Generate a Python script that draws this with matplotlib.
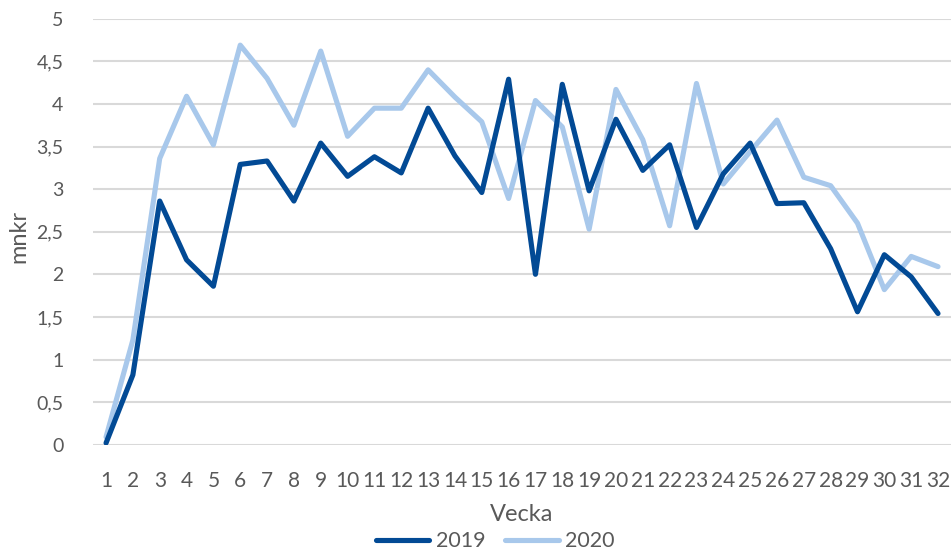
import matplotlib
matplotlib.use("Agg")
import matplotlib.pyplot as plt

weeks = list(range(1, 33))
week_labels = [str(w) for w in weeks]
y2019 = [0.02, 0.82, 2.86, 2.17, 1.86, 3.29, 3.33, 2.86, 3.54, 3.15, 3.38, 3.19,
         3.95, 3.39, 2.96, 4.29, 2.00, 4.23, 2.98, 3.82, 3.22, 3.52, 2.55, 3.18,
         3.54, 2.83, 2.84, 2.30, 1.56, 2.23, 1.97, 1.54]
y2020 = [0.09, 1.23, 3.36, 4.09, 3.52, 4.69, 4.30, 3.75, 4.62, 3.62, 3.95, 3.95,
         4.40, 4.08, 3.79, 2.89, 4.04, 3.73, 2.53, 4.17, 3.58, 2.57, 4.24, 3.06,
         3.44, 3.81, 3.14, 3.04, 2.60, 1.82, 2.21, 2.09]
yticks = [0, 0.5, 1, 1.5, 2, 2.5, 3, 3.5, 4, 4.5, 5]
ytick_labels = ["0", "0,5", "1", "1,5", "2", "2,5", "3", "3,5", "4", "4,5", "5"]
series_names = ["2019", "2020"]

plt.rcParams['font.family'] = ['Lato', 'DejaVu Sans']
txt = '#595959'

fig = plt.figure(figsize=(9.52, 5.54), dpi=100)
ax = fig.add_axes([0.0973, 0.1973, 0.9021, 0.7689])

ax.plot(weeks, y2019, color='#024A95', lw=3.7, label=series_names[0],
        solid_joinstyle='round', solid_capstyle='round', zorder=4)
ax.plot(weeks, y2020, color='#A8C8EB', lw=3.7, label=series_names[1],
        solid_joinstyle='round', solid_capstyle='round', zorder=3)

ax.set_xlim(0.5, 32.5)
ax.set_ylim(0, 5)
ax.set_yticks(yticks)
ax.set_yticklabels(ytick_labels)
ax.set_xticks(weeks)
ax.set_xticklabels(week_labels)
ax.grid(axis='y', color='#D9D9D9', lw=1.5, zorder=0)
ax.set_axisbelow(True)
for s in ax.spines.values():
    s.set_visible(False)
ax.tick_params(axis='y', length=0, labelsize=14, colors=txt, pad=21)
ax.tick_params(axis='x', length=0, labelsize=15, colors=txt, pad=19)

ax.set_xlabel("Vecka", fontsize=17, color=txt, labelpad=9)
ax.set_ylabel("mnkr", fontsize=17, color=txt)
ax.yaxis.set_label_coords(-0.074, 0.49)

fig.legend(loc='lower center', bbox_to_anchor=(0.52, -0.03), ncol=2,
           frameon=False, fontsize=15.5, handlelength=2.5, columnspacing=0.9,
           handletextpad=0.3, labelcolor=txt)

fig.savefig("out.png", dpi=100)
